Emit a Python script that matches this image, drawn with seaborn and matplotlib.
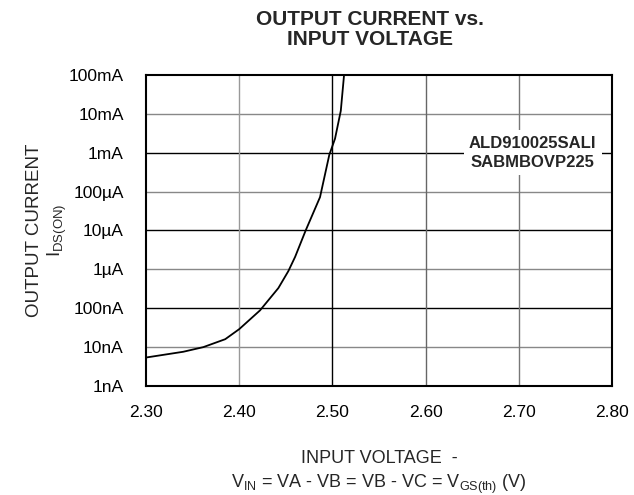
import numpy as np
import pandas as pd
import matplotlib
matplotlib.use("Agg")
import matplotlib.pyplot as plt
import seaborn as sns

# curve (volts, amps)
vin = [2.300, 2.340, 2.3615, 2.385, 2.400, 2.4223, 2.442, 2.4527, 2.460,
       2.4713, 2.4867, 2.4967, 2.5028, 2.509, 2.5125]
ids = [5.4e-9, 7.6e-9, 1.0e-8, 1.6e-8, 2.9e-8, 8.8e-8, 3.3e-7, 9.0e-7, 2.1e-6,
       1.0e-5, 7.2e-5, 8.9e-4, 2.3e-3, 1.2e-2, 1.0e-1]

x_ticks = [2.30, 2.40, 2.50, 2.60, 2.70, 2.80]
x_labels = ["2.30", "2.40", "2.50", "2.60", "2.70", "2.80"]
y_ticks = [1e-9, 1e-8, 1e-7, 1e-6, 1e-5, 1e-4, 1e-3, 1e-2, 1e-1]
y_labels = ["1nA", "10nA", "100nA", "1\u00b5A", "10\u00b5A", "100\u00b5A",
            "1mA", "10mA", "100mA"]
part_label = "ALD910025SALI\nSABMBOVP225"

sns.set_theme(style="white")
plt.rcParams['font.family'] = ['Liberation Sans', 'DejaVu Sans']
plt.rcParams['mathtext.fontset'] = 'custom'
plt.rcParams['mathtext.rm'] = 'Liberation Sans'

df = pd.DataFrame({"vin": vin, "ids": ids})

fig = plt.figure(figsize=(6.34, 4.95), dpi=100)
ax = fig.add_axes([0.2303, 0.2202, 0.735, 0.6283])

# grid: alternating black / grey lines like the datasheet
for i, yv in enumerate(y_ticks[1:-1]):
    ax.axhline(yv, color="#888888" if i % 2 == 0 else "black", lw=1.0, zorder=1)
for xv, c in zip(x_ticks[1:-1], ["#999999", "black", "#666666", "#777777"]):
    ax.axvline(xv, color=c, lw=1.0, zorder=1)

sns.lineplot(data=df, x="vin", y="ids", color="black", lw=1.3, ax=ax, zorder=3)

ax.set_yscale("log")
ax.set_xlim(2.30, 2.80)
ax.set_ylim(1e-9, 1e-1)
ax.set_xticks(x_ticks)
ax.set_xticklabels(x_labels)
ax.set_yticks(y_ticks)
ax.set_yticklabels(y_labels)
ax.minorticks_off()
ax.tick_params(axis="both", length=0, labelsize=12.5, colors="black")
ax.tick_params(axis="x", pad=14)
ax.tick_params(axis="y", pad=16)

for s in ax.spines.values():
    s.set_color("black")
    s.set_linewidth(1.5)

ax.text(2.715, 1e-3, part_label, ha="center", va="center", fontsize=12,
        fontweight="bold", linespacing=1.3, zorder=4,
        bbox=dict(facecolor="white", edgecolor="none", pad=4))

ax.set_xlabel("INPUT VOLTAGE  -\n"
              r"V$_{\mathregular{IN}}$ = VA - VB = VB - VC = V$_{\mathregular{GS(th)}}$ (V)",
              fontsize=13, labelpad=21, linespacing=1.4)
ax.set_ylabel("OUTPUT CURRENT\n" r"I$_{\mathregular{DS(ON)}}$",
              fontsize=13.5, labelpad=0, linespacing=1.15)

fig.suptitle("OUTPUT CURRENT vs.\nINPUT VOLTAGE", x=0.583, y=0.98,
             fontsize=15, fontweight="bold", linespacing=1.1)

fig.savefig("out.png", dpi=100)
